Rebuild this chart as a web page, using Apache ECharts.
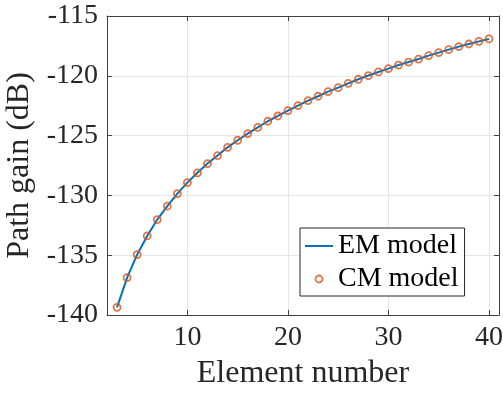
<!DOCTYPE html>
<html>
<head>
<meta charset="utf-8">
<script src="https://cdn.jsdelivr.net/npm/echarts@6/dist/echarts.min.js"></script>
<style>
  html, body { margin: 0; padding: 0; background: #fff; }
  #chart { width: 503px; height: 396px; }
</style>
</head>
<body>
<div id="chart"></div>
<script>
// Array element index along the x axis
const elementNumber = [3, 4, 5, 6, 7, 8, 9, 10, 11, 12, 13, 14, 15, 16, 17, 18, 19, 20, 21,
  22, 23, 24, 25, 26, 27, 28, 29, 30, 31, 32, 33, 34, 35, 36, 37, 38, 39, 40];

// Path gain (dB) from the electromagnetic model
const gainEM = [-139.36, -136.87, -134.95, -133.39, -132.02, -130.89, -129.85, -128.93,
  -128.11, -127.34, -126.67, -125.98, -125.39, -124.83, -124.31, -123.80, -123.36,
  -122.91, -122.49, -122.07, -121.71, -121.32, -120.99, -120.63, -120.29, -119.98,
  -119.68, -119.40, -119.10, -118.85, -118.60, -118.31, -118.06, -117.81, -117.56,
  -117.34, -117.12, -116.92];

// Path gain (dB) from the circuit model
const gainCM = [-139.36, -136.87, -134.95, -133.39, -132.02, -130.89, -129.85, -128.93,
  -128.11, -127.34, -126.67, -125.98, -125.39, -124.83, -124.31, -123.80, -123.36,
  -122.91, -122.49, -122.07, -121.71, -121.32, -120.99, -120.63, -120.29, -119.98,
  -119.68, -119.40, -119.10, -118.85, -118.60, -118.31, -118.06, -117.81, -117.56,
  -117.34, -117.12, -116.92];

const seriesNames = ['EM model', 'CM model'];
const xRange = [2, 41];
const yRange = [-140, -115];
const yStep = 5;

const FONT = '"Liberation Serif", "Times New Roman", serif';
const AXIS_COLOR = '#404040';
const TEXT_COLOR = '#262626';
const EM_COLOR = '#0072BD';
const CM_COLOR = '#D95319';

const pairs = (xs, ys) => xs.map((x, i) => [x, ys[i]]);

const chart = echarts.init(document.getElementById('chart'), null, { renderer: 'canvas' });

const boxAxisLine = { show: true, lineStyle: { color: AXIS_COLOR, width: 1 } };
const innerTick = { show: true, inside: true, length: 5, lineStyle: { color: AXIS_COLOR, width: 1 } };

chart.setOption({
  animation: false,
  backgroundColor: '#fff',
  grid: {
    left: 107, right: 4, top: 16, bottom: 81,
    containLabel: false,
    outerBoundsMode: 'none'
  },
  legend: {
    orient: 'vertical',
    left: 300,
    top: 228,
    padding: [4, 6, 3, 5],
    itemGap: 5,
    itemWidth: 28,
    itemHeight: 7,
    borderColor: '#262626',
    borderWidth: 1,
    backgroundColor: '#fff',
    textStyle: { fontFamily: FONT, fontSize: 28, color: '#000', lineHeight: 28 },
    data: [
      {
        name: seriesNames[0],
        // plain line swatch
        icon: 'path://M0,0H28V2H0Z',
        itemStyle: { color: EM_COLOR }
      },
      {
        name: seriesNames[1],
        icon: 'circle',
        itemStyle: { color: 'rgba(0,0,0,0)', borderColor: CM_COLOR, borderWidth: 1.8 }
      }
    ]
  },
  xAxis: [
    {
      type: 'value',
      min: xRange[0],
      max: xRange[1],
      splitNumber: 4,
      name: 'Element number',
      nameLocation: 'middle',
      nameGap: 43,
      nameTextStyle: { fontFamily: FONT, fontSize: 32, color: TEXT_COLOR },
      axisLine: boxAxisLine,
      axisTick: innerTick,
      axisLabel: {
        fontFamily: FONT, fontSize: 28, color: TEXT_COLOR, margin: 9,
        showMinLabel: false, showMaxLabel: false
      },
      splitLine: { show: true, lineStyle: { color: '#e6e6e6', width: 1 } }
    },
    {
      type: 'value',
      position: 'top',
      min: xRange[0],
      max: xRange[1],
      splitNumber: 4,
      axisLine: boxAxisLine,
      axisTick: innerTick,
      axisLabel: { show: false },
      splitLine: { show: false }
    }
  ],
  yAxis: [
    {
      type: 'value',
      min: yRange[0],
      max: yRange[1],
      interval: yStep,
      name: 'Path gain (dB)',
      nameLocation: 'middle',
      nameGap: 63,
      nameTextStyle: { fontFamily: FONT, fontSize: 32, color: TEXT_COLOR },
      axisLine: boxAxisLine,
      axisTick: innerTick,
      axisLabel: { fontFamily: FONT, fontSize: 28, color: TEXT_COLOR, margin: 9 },
      splitLine: { show: true, lineStyle: { color: '#e6e6e6', width: 1 } }
    },
    {
      type: 'value',
      position: 'right',
      min: yRange[0],
      max: yRange[1],
      interval: yStep,
      axisLine: boxAxisLine,
      axisTick: innerTick,
      axisLabel: { show: false },
      splitLine: { show: false }
    }
  ],
  series: [
    {
      name: seriesNames[0],
      type: 'line',
      xAxisIndex: 0,
      yAxisIndex: 0,
      data: pairs(elementNumber, gainEM),
      symbol: 'none',
      lineStyle: { color: EM_COLOR, width: 2 },
      itemStyle: { color: EM_COLOR },
      z: 2
    },
    {
      name: seriesNames[1],
      type: 'scatter',
      xAxisIndex: 0,
      yAxisIndex: 0,
      data: pairs(elementNumber, gainCM),
      symbol: 'circle',
      symbolSize: 7,
      itemStyle: { color: 'rgba(0,0,0,0)', borderColor: CM_COLOR, borderWidth: 1.8 },
      z: 3
    }
  ]
});
</script>
</body>
</html>
